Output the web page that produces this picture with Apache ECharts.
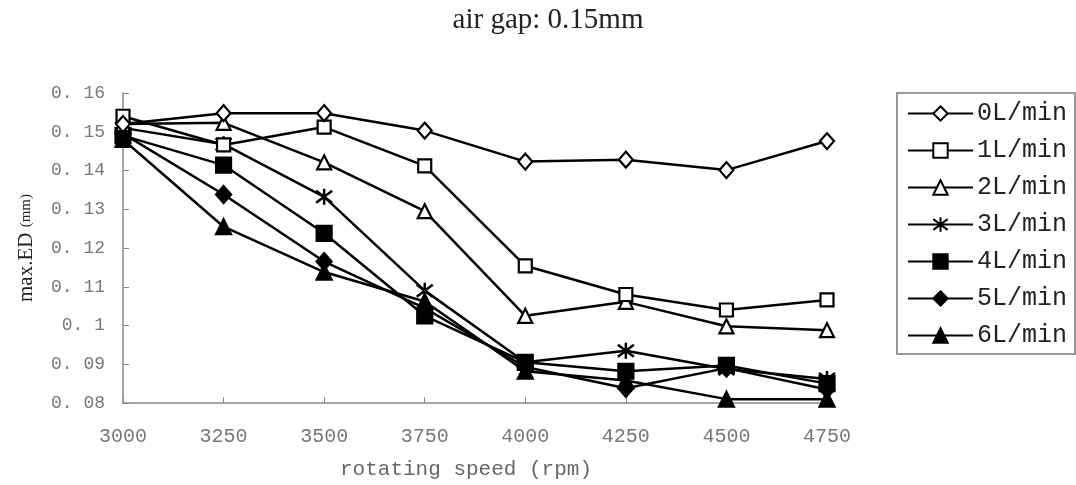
<!DOCTYPE html>
<html><head><meta charset="utf-8">
<script src="https://cdn.jsdelivr.net/npm/echarts@6/dist/echarts.min.js"></script>
<style>html,body{margin:0;padding:0;background:#fff}#c{width:1076px;height:485px}</style>
</head><body><div id="c"></div>
<script>
const speeds = [3000, 3250, 3500, 3750, 4000, 4250, 4500, 4750];
const flow0 = [0.152, 0.1548, 0.1548, 0.1503, 0.1423, 0.1428, 0.1401, 0.1476];
const flow1 = [0.154, 0.1466, 0.1512, 0.1412, 0.1154, 0.1080, 0.1040, 0.1066];
const flow2 = [0.152, 0.1523, 0.1421, 0.1295, 0.1025, 0.1061, 0.0998, 0.0988];
const flow3 = [0.151, 0.1468, 0.1332, 0.1090, 0.0905, 0.0935, 0.0888, 0.0862];
const flow4 = [0.149, 0.1414, 0.1238, 0.1025, 0.0905, 0.0882, 0.0897, 0.0850];
const flow5 = [0.1495, 0.1338, 0.1165, 0.1045, 0.0893, 0.0838, 0.0890, 0.0835];
const flow6 = [0.148, 0.1255, 0.1138, 0.1062, 0.0882, 0.0858, 0.0810, 0.0810];
const seriesNames = ['0L/min','1L/min','2L/min','3L/min','4L/min','5L/min','6L/min'];
const yTicks = [0.08,0.09,0.10,0.11,0.12,0.13,0.14,0.15,0.16];

const star = 'path://M0,-10L0,10M-7.5,-7.5L7.5,7.5M-7.5,7.5L7.5,-7.5';
const symbols = [
  {s:'diamond', size:[14,16], fill:'#fff'},
  {s:'rect', size:13, fill:'#fff'},
  {s:'triangle', size:14, fill:'#fff'},
  {s:star, size:16, fill:'#000'},
  {s:'rect', size:15, fill:'#000'},
  {s:'diamond', size:[15,17], fill:'#000'},
  {s:'triangle', size:15, fill:'#000'}
];
const allData = [flow0, flow1, flow2, flow3, flow4, flow5, flow6];

const chart = echarts.init(document.getElementById('c'));
chart.setOption({
  animation:false,
  backgroundColor:'#fff',
  title:{text:'air gap: 0.15mm', left:543, top:1, textAlign:'center',
    textStyle:{fontFamily:'Liberation Serif', fontSize:29, fontWeight:'normal', color:'#222'}},
  grid:{left:123, right:249, top:93, bottom:82},
  legend:{
    orient:'vertical', left:897, top:93, width:176,
    itemWidth:65, itemHeight:18, itemGap:12,
    padding:[8,8,6,10],
    borderColor:'#999', borderWidth:2,
    textStyle:{fontFamily:'Liberation Mono', fontSize:25, lineHeight:18, color:'#222', padding:[0,0,0,-1]},
    data:seriesNames
  },
  xAxis:{type:'value', min:3000, max:4750, interval:250,
    name:'rotating speed (rpm)', nameLocation:'middle', nameGap:56,
    nameTextStyle:{fontFamily:'Liberation Mono', fontSize:21, color:'#666', padding:[0,18,0,0]},
    axisLine:{lineStyle:{color:'#888', width:1.5}},
    axisTick:{inside:true, length:6, lineStyle:{color:'#888'}},
    axisLabel:{fontFamily:'Liberation Mono', fontSize:20, color:'#777', margin:24,
      formatter:v => String(v)},
    splitLine:{show:false}},
  yAxis:{type:'value', min:0.08, max:0.16, interval:0.01,
    name:'{a|max.ED }{b|(mm)}', nameLocation:'middle', nameGap:86, nameRotate:90,
    nameTextStyle:{rich:{a:{fontFamily:'Liberation Serif', fontSize:21, color:'#222'},
      b:{fontFamily:'Liberation Serif', fontSize:15, color:'#222'}}},
    axisLine:{show:true, lineStyle:{color:'#888', width:1.5}},
    axisTick:{show:true, inside:true, length:6, lineStyle:{color:'#888'}},
    axisLabel:{fontFamily:'Liberation Mono', fontSize:18, color:'#777', margin:18,
      formatter:v => String(Math.round(v*100)/100).replace('0.','0. ')},
    splitLine:{show:false}},
  series: allData.map((d,i)=>({
    name:seriesNames[i], type:'line',
    data:d.map((v,j)=>[speeds[j], v]),
    symbol:symbols[i].s, symbolSize:symbols[i].size, showAllSymbol:true,
    lineStyle:{color:'#000', width:2.5},
    itemStyle:{color:symbols[i].fill, borderColor:'#000', borderWidth:i===3?2.5:2.2},
    z:10-i
  }))
});
</script></body></html>
